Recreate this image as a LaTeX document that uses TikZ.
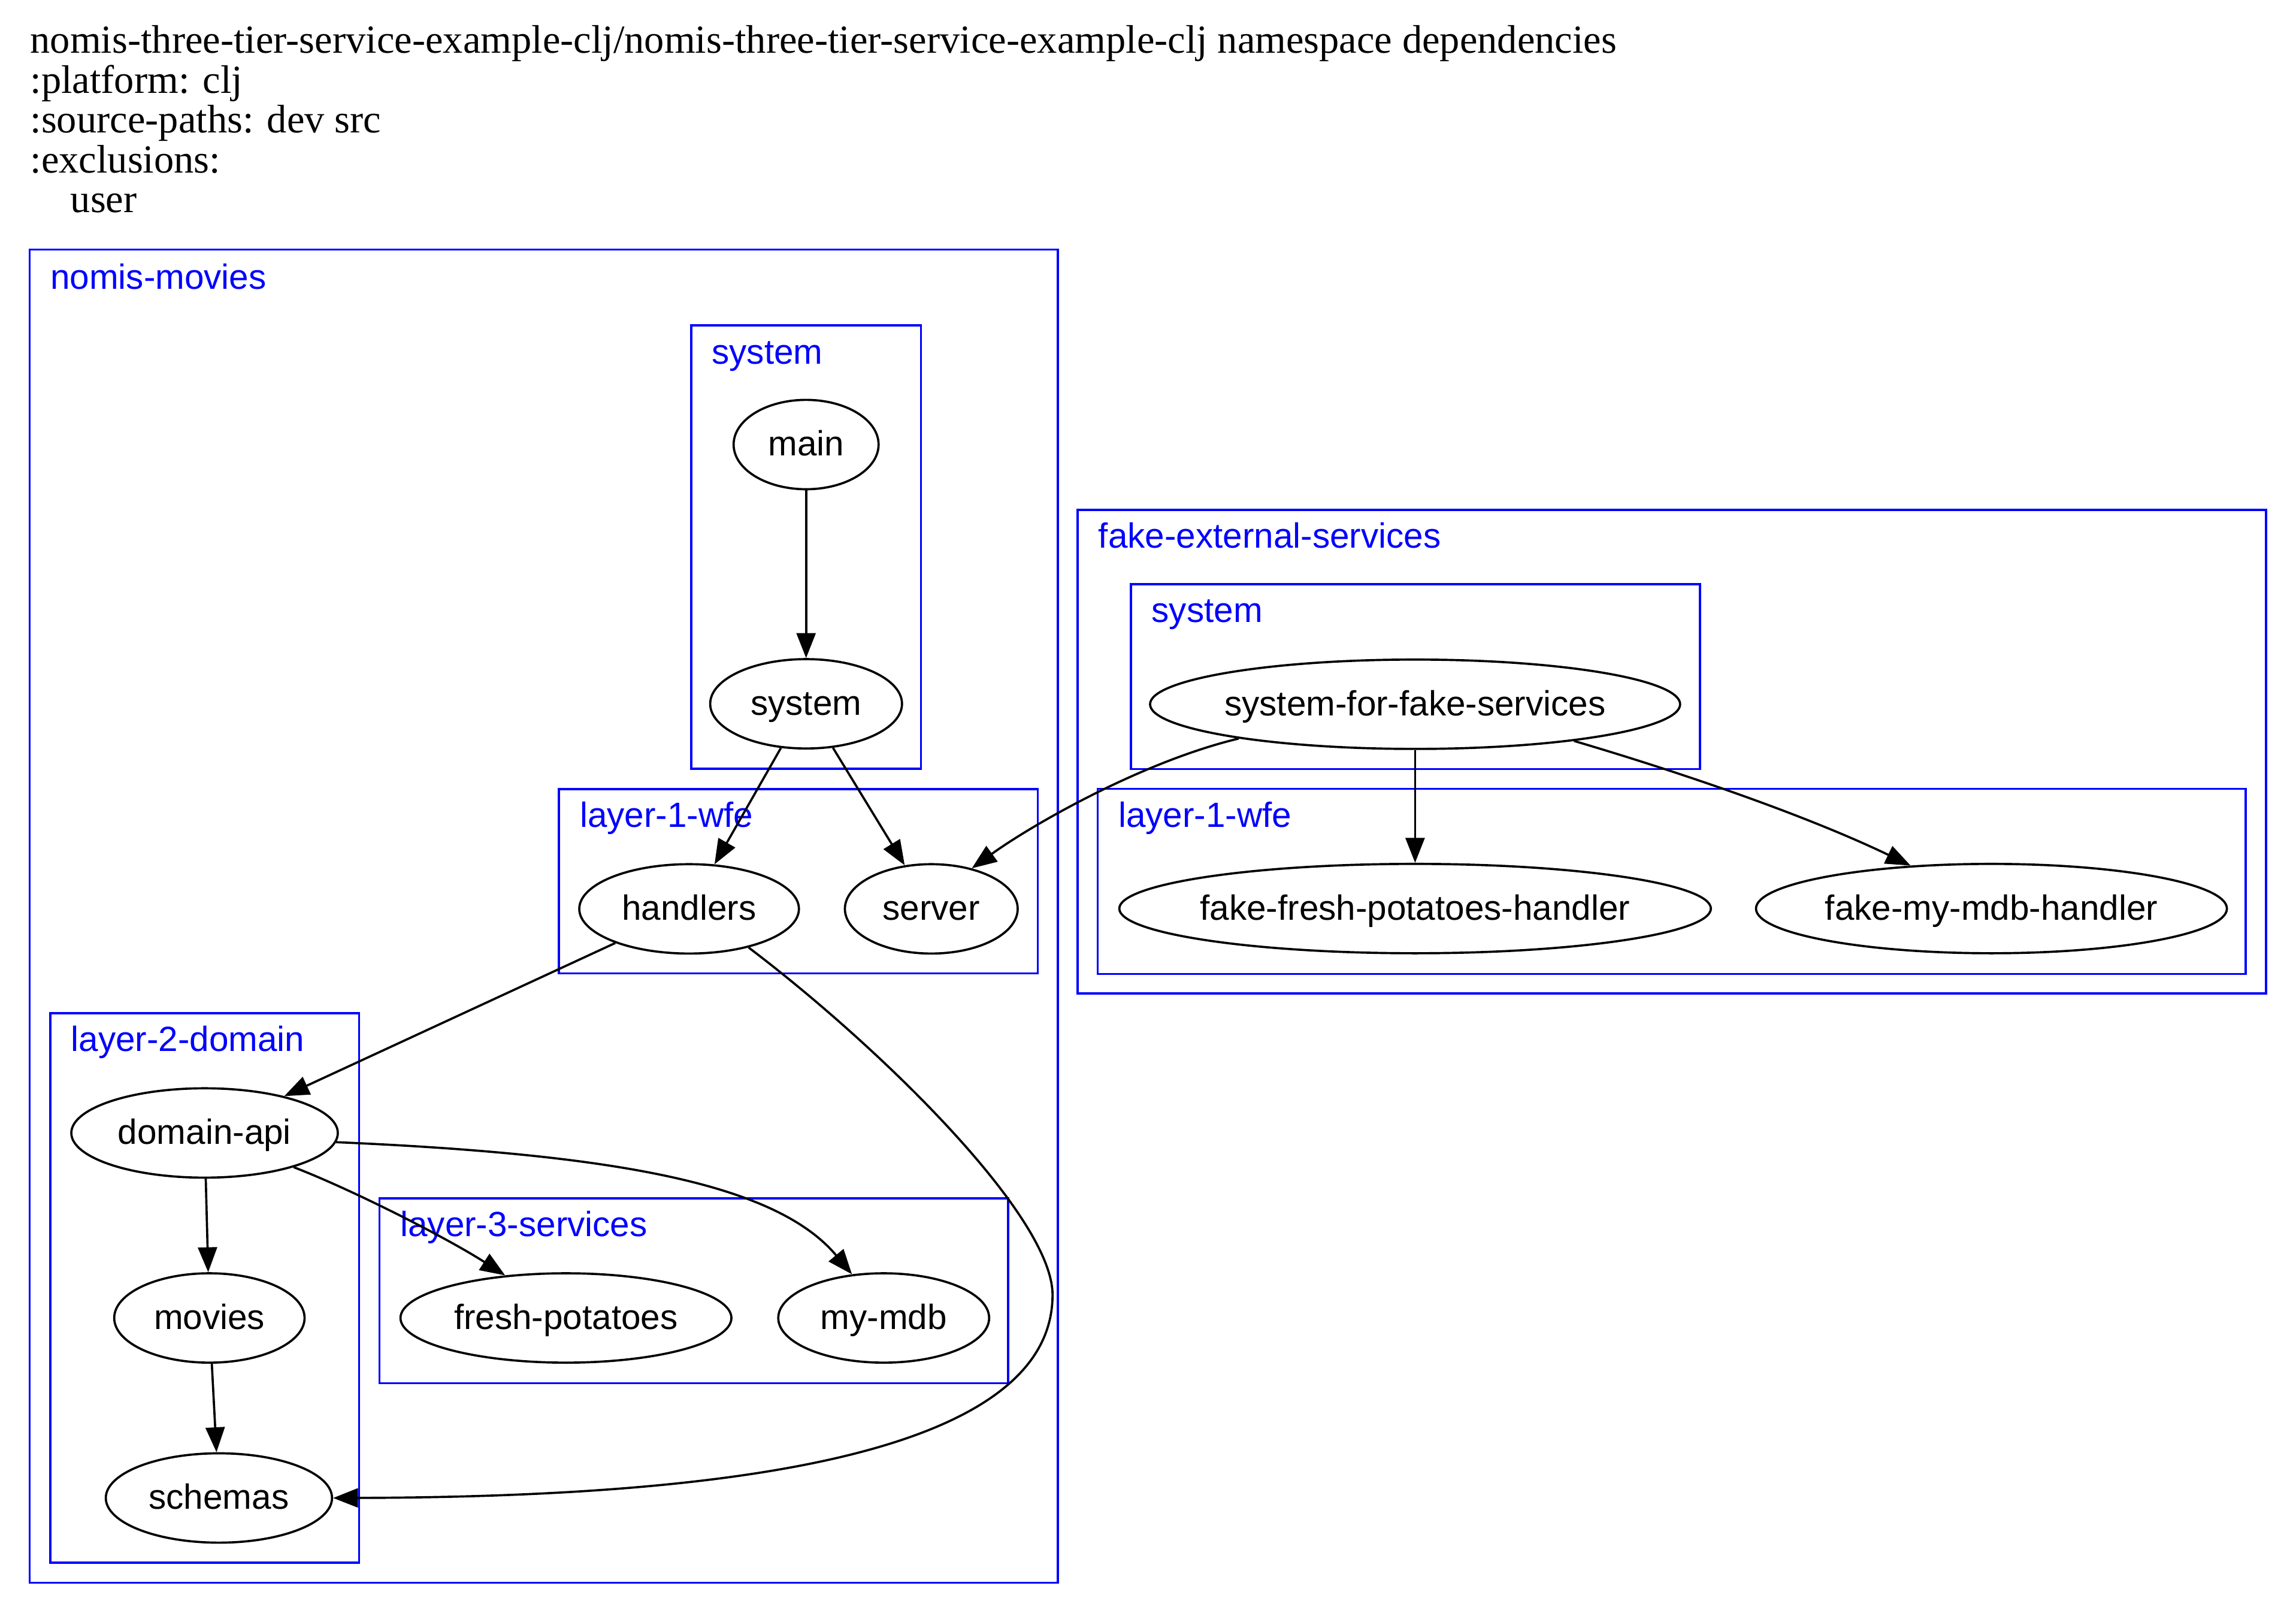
\documentclass[tikz,border=0pt]{standalone}
\usepackage{fontspec}
\setmainfont{Liberation Serif}
\newfontfamily\helv{Liberation Sans}
\usetikzlibrary{arrows.meta,shapes.geometric}
\newcommand\nodetxt[1]{\makebox[0pt]{#1}}
\begin{document}
\begin{tikzpicture}[x=1pt,y=-1pt,
  ns/.style={draw, ellipse, line width=1.5pt, inner sep=0pt, minimum height=61pt,
    font=\helv\fontsize{23.9}{28}\selectfont, text height=15.5pt, text depth=0pt},
  clus/.style={draw=blue, line width=1.5pt},
  clab/.style={anchor=base west, inner sep=0pt, text=blue, font=\helv\fontsize{23.9}{28}\selectfont},
  dep/.style={line width=1.5pt, -{Triangle[length=17pt,width=13pt]}},
  ttl/.style={anchor=base west, inner sep=0pt, font=\fontsize{27.2}{30}\selectfont}]
\useasboundingbox (0,0) rectangle (1568,1101);

% title
\node[ttl] (t1) at (20.5,36.3) {nomis-three-tier-service-example-clj/nomis-three-tier-service-example-clj namespace dependencies};
\node[ttl] (t2) at (20.5,63.5) {:platform: clj};
\node[ttl] (t3) at (20.5,90.7) {:source-paths: dev src};
\node[ttl] (t4) at (20.5,117.9) {:exclusions:};
\node[ttl] (t5) at (48,145.1) {user};

% clusters
\draw[clus] (20.2,170.4) rectangle (722.3,1080.5);
\node[clab] (lnm) at (34.3,197.5) {nomis-movies};
\draw[clus] (472,222) rectangle (629,524.9);
\node[clab] (lsys) at (486,248.4) {system};
\draw[clus] (381.8,538.8) rectangle (708.7,664.6);
\node[clab] (lwfe) at (395.8,564.8) {layer-1-wfe};
\draw[clus] (34.3,691.8) rectangle (245.2,1066.9);
\node[clab] (ldom) at (48.3,717.8) {layer-2-domain};
\draw[clus] (259.2,818.2) rectangle (688.5,944.4);
\node[clab] (lsvc) at (273.2,844.2) {layer-3-services};
\draw[clus] (736,348) rectangle (1547.5,678.2);
\node[clab] (lfake) at (750,374) {fake-external-services};
\draw[clus] (772.3,398.8) rectangle (1161,525);
\node[clab] (lfsys) at (786.3,424.8) {system};
\draw[clus] (749.6,538.6) rectangle (1533.6,665);
\node[clab] (lfwfe) at (763.6,564.6) {layer-1-wfe};

% nodes
\node[ns, minimum width=99pt] (main) at (550.5,303.5) {\nodetxt{main}};
\node[ns, minimum width=131pt] (system) at (550.5,480.5) {\nodetxt{system}};
\node[ns, minimum width=150pt] (handlers) at (470.6,620.5) {\nodetxt{handlers}};
\node[ns, minimum width=118pt] (server) at (636,620.5) {\nodetxt{server}};
\node[ns, minimum width=182pt] (domainapi) at (139.7,773.5) {\nodetxt{domain-api}};
\node[ns, minimum width=130pt] (movies) at (143,899.8) {\nodetxt{movies}};
\node[ns, minimum width=154.5pt] (schemas) at (149.5,1022.7) {\nodetxt{schemas}};
\node[ns, minimum width=226pt] (freshpotatoes) at (386.5,899.8) {\nodetxt{fresh-potatoes}};
\node[ns, minimum width=144pt] (mymdb) at (603.5,899.8) {\nodetxt{my-mdb}};
\node[ns, minimum width=362pt] (sfs) at (966.4,480.8) {\nodetxt{system-for-fake-services}};
\node[ns, minimum width=404pt] (ffph) at (966.4,620.3) {\nodetxt{fake-fresh-potatoes-handler}};
\node[ns, minimum width=321.6pt] (fmmh) at (1360,620.3) {\nodetxt{fake-my-mdb-handler}};

% edges
\draw[dep] (main) -- (system);
\draw[dep] (system) -- (handlers);
\draw[dep] (system) -- (server);
\draw[dep] (sfs.191) .. controls (780,520) and (705,563) .. (server.45);
\draw[dep] (sfs) -- (ffph);
\draw[dep] (sfs.-13.5) .. controls (1140,525) and (1230,555) .. (fmmh.152);
\draw[dep] (handlers) -- (domainapi);
\draw[dep] (handlers.-33.5) .. controls (600,714) and (718.8,830) .. (718.8,884)
  .. controls (718.8,1000) and (470,1022) .. (schemas.east);
\draw[dep] (domainapi) -- (movies);
\draw[dep] (movies) -- (schemas);
\draw[dep] (domainapi.-21) .. controls (240,812) and (305,845) .. (freshpotatoes.145);
\draw[dep] (domainapi.-4) .. controls (420,788) and (530,808) .. (mymdb.126);
\end{tikzpicture}
\end{document}
